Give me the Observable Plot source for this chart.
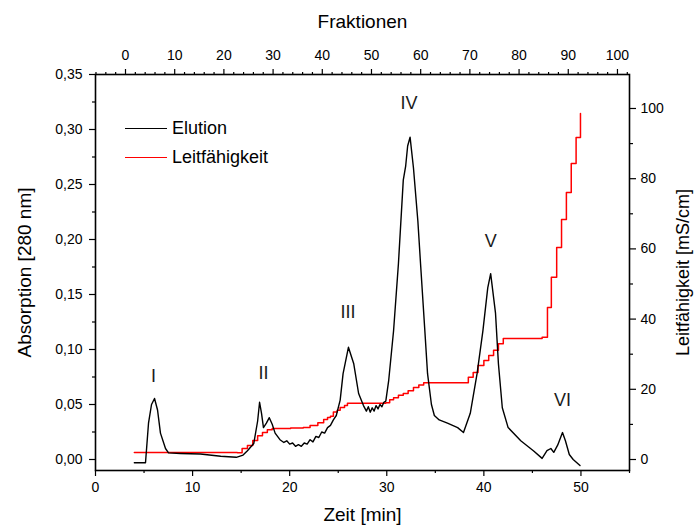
<!DOCTYPE html>
<html>
<head>
<meta charset="utf-8">
<script src="https://cdn.jsdelivr.net/npm/d3@7"></script>
<script src="https://cdn.jsdelivr.net/npm/@observablehq/plot@0.6"></script>
<style>
  html, body { margin: 0; padding: 0; background: #fff; }
  #wrap { position: relative; width: 695px; height: 526px; overflow: hidden; font-family: "Liberation Sans", Arial, sans-serif; }
  .leg { position: absolute; left: 125px; display: flex; align-items: center; font-size: 18px; color: #000; }
  .sw { width: 42px; height: 0; border-top: 1.5px solid; margin-right: 5px; }
</style>
</head>
<body>
<div id="wrap"></div>
<script>
// Elution (absorbance at 280 nm) vs time [min]
const elutionTime = [4.0,5.15,5.46,5.77,6.08,6.39,6.69,7.21,7.52,8.75,10.8,12.9,14.5,15.2,15.65,16.3,16.7,16.9,17.1,17.3,17.6,17.9,18.2,18.5,19.0,19.4,19.7,20.0,20.3,20.6,20.9,21.2,21.5,21.8,22.1,22.4,22.7,23.0,23.3,23.6,23.9,24.2,24.5,24.8,25.2,25.5,26.05,26.6,27.1,27.6,27.9,28.1,28.3,28.5,28.7,28.9,29.1,29.3,29.5,29.7,29.9,30.2,30.7,31.2,31.7,31.95,32.15,32.4,32.75,33.2,33.5,33.9,34.2,34.6,34.9,35.4,36.25,37.3,37.9,38.6,39.3,39.9,40.4,40.7,41.2,41.5,41.9,42.5,43.8,45.1,46.0,46.5,46.9,47.2,47.6,48.1,48.4,48.8,49.2,49.9];
const elutionAbs  = [-0.003,-0.003,0.033,0.050,0.0555,0.045,0.024,0.010,0.006,0.0055,0.005,0.003,0.002,0.004,0.008,0.0145,0.035,0.052,0.042,0.029,0.033,0.038,0.032,0.024,0.018,0.0155,0.017,0.014,0.015,0.012,0.0135,0.012,0.015,0.014,0.018,0.016,0.021,0.020,0.025,0.024,0.029,0.031,0.036,0.040,0.054,0.078,0.102,0.087,0.060,0.049,0.044,0.048,0.043,0.047,0.044,0.049,0.046,0.050,0.048,0.052,0.053,0.072,0.117,0.178,0.254,0.267,0.285,0.293,0.265,0.217,0.175,0.120,0.078,0.050,0.040,0.036,0.033,0.029,0.0245,0.042,0.078,0.117,0.156,0.169,0.133,0.087,0.047,0.029,0.017,0.008,0.001,0.008,0.010,0.0065,0.013,0.0245,0.017,0.0045,0.000,-0.0055];

// Conductivity [mS/cm] vs time [min] (step curve)
const condTime  = [4.0,14.6,15.1,15.65,16.2,16.7,17.2,17.7,18.2,20.1,21.4,22.1,22.9,23.5,23.9,24.2,24.5,24.9,25.2,25.65,25.95,29.9,30.3,30.7,31.2,31.7,32.2,32.75,33.3,33.8,38.4,38.9,39.4,40.0,40.5,41.0,41.5,42.0,46.0,46.55,46.95,47.5,48.0,48.5,49.0,49.5,49.95];
const condValue = [2.0,1.9,3.1,4.0,5.4,6.8,7.7,8.5,8.8,9.0,9.1,9.7,10.5,11.4,12.0,12.3,13.5,14.0,14.8,15.4,16.0,16.2,17.0,17.6,18.3,18.8,19.6,20.5,21.2,21.9,23.4,24.8,26.8,28.2,29.6,31.1,33.0,34.5,34.8,43.3,51.9,60.4,68.4,76.1,84.3,91.7,98.6];

// Peak labels
const peakNames = ["I","II","III","IV","V","VI"];
const peakTime  = [5.97, 17.3, 26.0, 32.3, 40.7, 48.1];
const peakAbs   = [0.076, 0.078, 0.134, 0.324, 0.198, 0.054];

// Axis ticks
const timeTicks = [0,10,20,30,40,50];
const timeMinor = [5,15,25,35,45,55];
const absTicks  = [0,0.05,0.10,0.15,0.20,0.25,0.30,0.35];
const absMinor  = [0.025,0.075,0.125,0.175,0.225,0.275,0.325];
const condTicks = [0,20,40,60,80,100];
const condMinor = [10,30,50,70,90];
const fracTicks = [0,10,20,30,40,50,60,70,80,90,100];
const fracMinor = [-6,-4,-2,2,4,6,8,12,14,16,18,22,24,26,28,32,34,36,38,42,44,46,48,52,54,56,58,62,64,66,68,72,74,76,78,82,84,86,88,92,94,96,98,102];

// Scale links between the secondary axes and the primary ones
const condPerAbs = 0.003191;   // absorbance units per mS/cm on the shared y scale
const fracStart = 3.09, fracWidth = 0.5067; // fraction -> minutes

const elution = elutionTime.map((t, i) => ({t, a: elutionAbs[i]}));
const cond = condTime.map((t, i) => ({t, a: condValue[i] * condPerAbs}));
const peaks = peakNames.map((n, i) => ({n, t: peakTime[i], a: peakAbs[i]}));
const f2t = f => fracStart + f * fracWidth;

const fmtAbs = d => d.toFixed(2).replace(".", ",");
const TS = 1.2;

const chart = Plot.plot({
  width: 695, height: 526,
  marginLeft: 95, marginRight: 66, marginTop: 74, marginBottom: 56,
  style: {fontFamily: "'Liberation Sans', Arial, sans-serif", fontSize: "14px", background: "white", color: "black", overflow: "visible"},
  x: {domain: [0, 55]},
  y: {domain: [-0.01, 0.35]},
  marks: [
    // bottom axis
    Plot.axisX(timeTicks, {anchor: "bottom", tickSize: 6, tickPadding: 6, strokeWidth: TS, fontSize: 14, label: null}),
    Plot.axisX(timeMinor, {anchor: "bottom", tickSize: 3, strokeWidth: TS, fill: "none", label: null}),
    // top axis (fractions)
    Plot.axisX(fracTicks.map(f2t), {anchor: "top", tickSize: 6, tickPadding: 9, strokeWidth: TS, fontSize: 14, tickFormat: d => String(Math.round((d - fracStart) / fracWidth)), label: null}),
    Plot.axisX(fracMinor.map(f2t), {anchor: "top", tickSize: 3, strokeWidth: TS, fill: "none", label: null}),
    // left axis
    Plot.axisY(absTicks, {anchor: "left", tickSize: 6, tickPadding: 7, strokeWidth: TS, fontSize: 14, tickFormat: fmtAbs, label: null}),
    Plot.axisY(absMinor, {anchor: "left", tickSize: 3, strokeWidth: TS, fill: "none", label: null}),
    // right axis (conductivity)
    Plot.axisY(condTicks.map(c => c * condPerAbs), {anchor: "right", tickSize: 6, tickPadding: 5, strokeWidth: TS, fontSize: 14, tickFormat: d => String(Math.round(d / condPerAbs)), label: null}),
    Plot.axisY(condMinor.map(c => c * condPerAbs), {anchor: "right", tickSize: 3, strokeWidth: TS, fill: "none", label: null}),
    // axis titles
    Plot.text(["Fraktionen"], {frameAnchor: "top", dy: -60, fontSize: 19}),
    Plot.text(["Zeit [min]"], {frameAnchor: "bottom", dy: 50, fontSize: 19}),
    Plot.text(["Absorption [280 nm]"], {frameAnchor: "left", dx: -71, rotate: -90, textAnchor: "middle", fontSize: 19}),
    Plot.text(["Leitfähigkeit [mS/cm]"], {frameAnchor: "right", dx: 54, rotate: -90, textAnchor: "middle", fontSize: 18}),
    // data
    Plot.line(cond, {x: "t", y: "a", stroke: "#ff0000", strokeWidth: 1.5, curve: "step-after"}),
    Plot.line(elution, {x: "t", y: "a", stroke: "black", strokeWidth: 1.4}),
    Plot.text(peaks, {x: "t", y: "a", text: "n", fontSize: 18, fill: "#1a1a1a"}),
    Plot.frame({stroke: "black", strokeWidth: 1.6})
  ]
});

const wrap = document.getElementById("wrap");
wrap.appendChild(chart);
const legend = [["Elution", "black", 128], ["Leitfähigkeit", "#ff0000", 157]];
for (const [name, color, y] of legend) {
  const row = document.createElement("div");
  row.className = "leg";
  row.style.top = (y - 11) + "px";
  row.style.height = "22px";
  const sw = document.createElement("span");
  sw.className = "sw";
  sw.style.borderColor = color;
  const lbl = document.createElement("span");
  lbl.textContent = name;
  row.appendChild(sw); row.appendChild(lbl);
  wrap.appendChild(row);
}
</script>
</body>
</html>
